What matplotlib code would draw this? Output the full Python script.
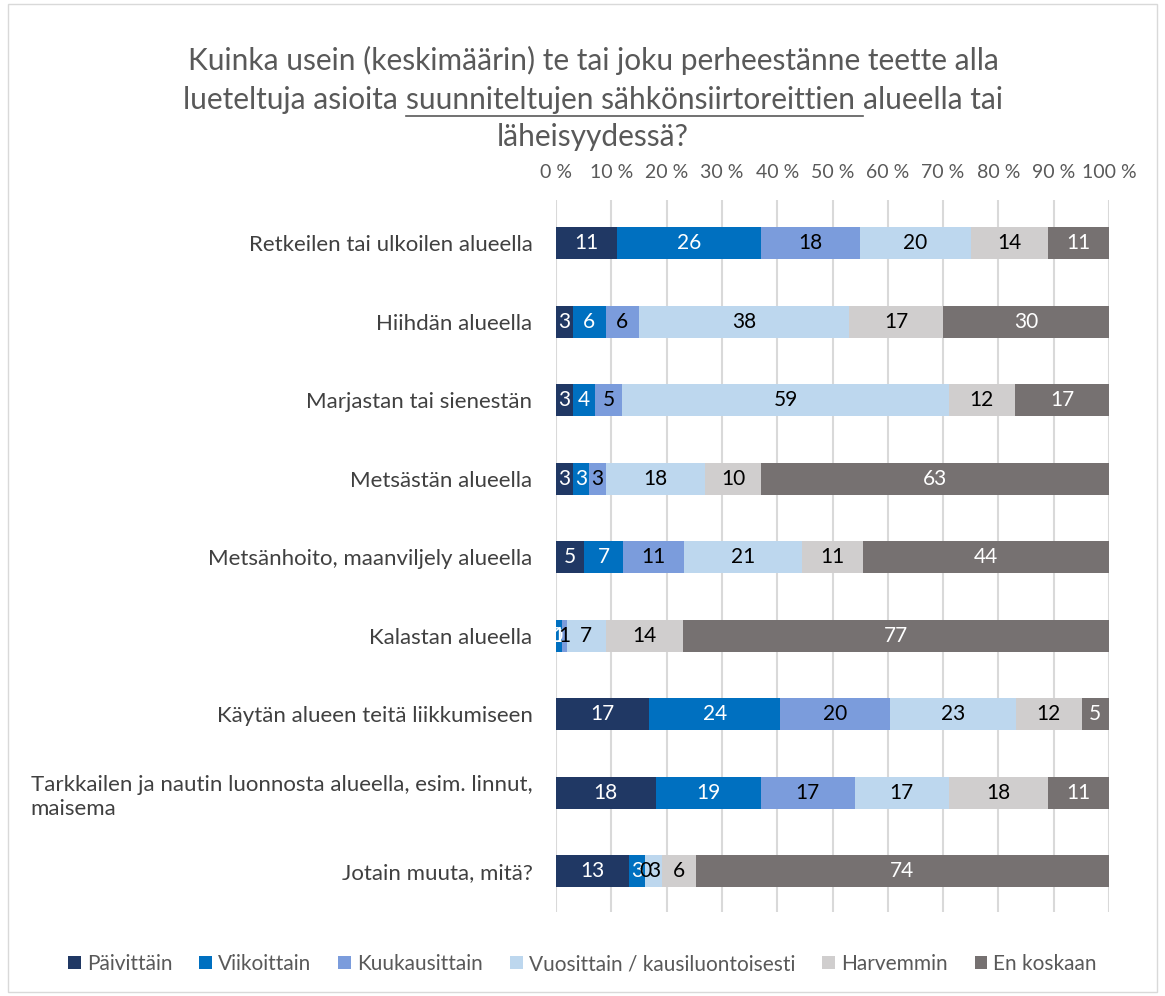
import matplotlib.pyplot as plt
import numpy as np
from matplotlib.lines import Line2D
from matplotlib.patches import Rectangle

plt.rcParams['font.family'] = ['Lato', 'DejaVu Sans']

categories = [
    "Retkeilen tai ulkoilen alueella",
    "Hiihdän alueella",
    "Marjastan tai sienestän",
    "Metsästän alueella",
    "Metsänhoito, maanviljely alueella",
    "Kalastan alueella",
    "Käytän alueen teitä liikkumiseen",
    "Tarkkailen ja nautin luonnosta alueella, esim. linnut,\nmaisema",
    "Jotain muuta, mitä?",
]
series = ["Päivittäin", "Viikoittain", "Kuukausittain",
          "Vuosittain / kausiluontoisesti", "Harvemmin", "En koskaan"]

paivittain = [11, 3, 3, 3, 5, 0, 17, 18, 13]
viikoittain = [26, 6, 4, 3, 7, 1, 24, 19, 3]
kuukausittain = [18, 6, 5, 3, 11, 1, 20, 17, 0]
vuosittain = [20, 38, 59, 18, 21, 7, 23, 17, 3]
harvemmin = [14, 17, 12, 10, 11, 14, 12, 18, 6]
en_koskaan = [11, 30, 17, 63, 44, 77, 5, 11, 74]

colors = ["#203864", "#0070C0", "#7B9CDC", "#BDD7EE", "#D0CECE", "#767171"]
label_colors = ["white", "white", "black", "black", "black", "white"]

data = np.array([paivittain, viikoittain, kuukausittain,
                 vuosittain, harvemmin, en_koskaan], dtype=float)
totals = data.sum(axis=0)
shares = data / totals * 100

fig = plt.figure(figsize=(11.65, 9.96), dpi=100)
ax = fig.add_axes([556 / 1165, 1 - 912 / 996, 553 / 1165, 712 / 996])

y = np.arange(len(categories))
left = np.zeros(len(categories))
for i, name in enumerate(series):
    bars = ax.barh(y, shares[i], left=left, height=0.41, color=colors[i],
                   label=name, zorder=3)
    for j in range(len(categories)):
        cx = left[j] + shares[i][j] / 2
        ax.text(cx, y[j], "%d" % data[i][j], ha='center', va='center',
                color=label_colors[i], fontsize=15, zorder=4)
    left += shares[i]

ax.set_xlim(0, 100)
ax.set_ylim(8.52, -0.55)
ax.set_xticks(np.arange(0, 101, 10))
ax.set_xticklabels(["%d %%" % v for v in range(0, 101, 10)])
ax.xaxis.tick_top()
ax.tick_params(axis='x', length=0, labelsize=14, labelcolor="#595959", pad=14)
ax.tick_params(axis='y', length=0, labelsize=16, labelcolor="#404040", pad=17)
ax.set_yticks(y)
ax.set_yticklabels(categories, multialignment='left', linespacing=1.3)
ax.grid(axis='x', color="#D9D9D9", linewidth=1.5, zorder=0)
for s in ax.spines.values():
    s.set_visible(False)

# title, with underlined part on line 2
tcol = "#595959"
tsize = 21.5
cx = 593 / 1165
fig.text(cx, 1 - 60 / 996, "Kuinka usein (keskimäärin) te tai joku perheestänne teette alla",
         ha='center', va='center', fontsize=tsize, color=tcol)
fig.text(cx, 1 - 137 / 996, "läheisyydessä?", ha='center', va='center',
         fontsize=tsize, color=tcol)

parts = ["lueteltuja asioita ", "suunniteltujen sähkönsiirtoreittien ", "alueella tai"]
fig.canvas.draw()
r = fig.canvas.get_renderer()
widths = []
for p in parts:
    t = fig.text(0, 0, p.replace(" ", "\u00a0"), fontsize=tsize)
    widths.append(t.get_window_extent(r).width)
    t.remove()
W = 1165.0
x0 = cx * W - sum(widths) / 2
yl = 1 - 100 / 996
xs = x0
for k, p in enumerate(parts):
    fig.text(xs / W, yl, p.replace(" ", "\u00a0"), ha='left', va='center',
             fontsize=tsize, color=tcol)
    if k == 1:
        fig.add_artist(Line2D([xs / W, (xs + widths[k]) / W],
                              [yl - 16 / 996, yl - 16 / 996],
                              color=tcol, linewidth=1.2))
    xs += widths[k]

fig.legend(loc='center', bbox_to_anchor=(0.5, 1 - 964 / 996), ncol=6,
           frameon=False, fontsize=15, labelcolor="#595959",
           handlelength=0.6, handleheight=0.6, handletextpad=0.3,
           columnspacing=1.3)

fig.add_artist(Rectangle((8 / W, 4 / 996), 1 - 16 / W, 1 - 8 / 996,
                         fill=False, edgecolor="#D9D9D9", linewidth=1,
                         transform=fig.transFigure))

fig.savefig("out.png", dpi=100)
